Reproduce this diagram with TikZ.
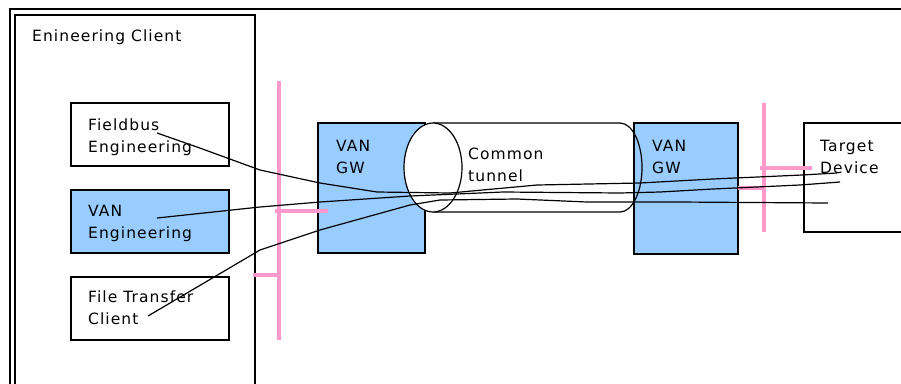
\documentclass[tikz,border=0pt]{standalone}
\usepackage{fontspec}
\setmainfont{DejaVu Sans}[LetterSpace=7]
\definecolor{vanblue}{HTML}{99CCFF}
\definecolor{buspink}{HTML}{FF99CC}
\begin{document}
\begin{tikzpicture}[x=1pt,y=-1pt,
  box/.style={draw=black,line width=1.3pt,fill=white,inner sep=0pt,outer sep=0pt,anchor=north west},
  gwbox/.style={box,fill=vanblue},
  lbl/.style={anchor=north west,inner sep=0pt,align=left,font=\fontsize{15.5}{22}\selectfont},
  bus/.style={draw=buspink,line width=4.5pt},
  tap/.style={draw=buspink,line width=3.5pt},
  link/.style={draw=black,line width=1.2pt,line join=round}]
\useasboundingbox (0,0) rectangle (901,383);
\fill[white] (0,0) rectangle (901,383);

% outer frame
\draw[line width=1.4pt] (10,400) -- (10,9) -- (920,9);

% engineering client and its applications
\node[box,minimum width=240pt,minimum height=400pt] (client) at (15,15) {};
\node[lbl] (clientlbl) at (32,30) {Enineering Client};
\node[box,minimum width=158pt,minimum height=63pt] (fb) at (71,103) {};
\node[gwbox,minimum width=158pt,minimum height=63pt] (van) at (71,190) {};
\node[box,minimum width=158pt,minimum height=63pt] (ft) at (71,277) {};
\node[lbl] (fblbl) at (88,119) {Fieldbus\\Engineering};
\node[lbl] (vanlbl) at (88,205) {VAN\\Engineering};
\node[lbl] (ftlbl) at (88,291) {File Transfer\\Client};

% gateways
\node[gwbox,minimum width=107pt,minimum height=130pt] (gwl) at (318,123) {};
\node[lbl] (gwllbl) at (336,140) {VAN\\GW};

% common tunnel (cylinder); y axis points down, so the cap runs from -90 to 90
\fill[white] (433,123) -- (620,123) arc[start angle=-90,end angle=90,x radius=22,y radius=44.5] -- (433,212) -- cycle;
\node[gwbox,minimum width=104pt,minimum height=131pt] (gwr) at (634,123) {};
\node[lbl] (gwrlbl) at (652,140) {VAN\\GW};
\draw[line width=1.2pt] (433,123) -- (620,123) arc[start angle=-90,end angle=90,x radius=22,y radius=44.5] -- (433,212);
\draw[line width=1.2pt,fill=white] (433,167.5) ellipse[x radius=29,y radius=44.5];
\node[lbl] (tunnellbl) at (468,148) {Common\\tunnel};

% target device
\node[box,minimum width=120pt,minimum height=109pt] (target) at (804,123) {};
\node[lbl] (targetlbl) at (820,140) {Target\\Device};

% network segments
\draw[bus] (279,81) -- (279,340);
\draw[tap] (275,211) -- (328,211);
\draw[tap] (253,275) -- (279,275);
\draw[bus] (764,103) -- (764,232);
\draw[bus] (760,168) -- (812,168);
\draw[tap] (738,188) -- (764,188);

% logical connections through the tunnel
\coordinate (fbEnd) at (157,133);
\coordinate (vanEnd) at (157,218);
\coordinate (ftEnd) at (148,316);
\coordinate (tdA) at (837,173);
\coordinate (tdB) at (840,182);
\coordinate (tdC) at (828,203);
\draw[link] (fbEnd) -- (197,147) -- (260,170) -- (320,183) -- (377,192) -- (450,193)
  -- (537,185) -- (640,183) -- (713,179) -- (802,175) -- (tdA);
\draw[link] (vanEnd) -- (260,207) -- (320,202) -- (410,196) -- (503,192) -- (620,193)
  -- (660,192) -- (713,189) -- (800,185) -- (tdB);
\draw[link] (ftEnd) -- (260,250) -- (320,230) -- (410,205) -- (440,200) -- (517,199)
  -- (587,202) -- (677,202) -- (tdC);
\end{tikzpicture}
\end{document}
